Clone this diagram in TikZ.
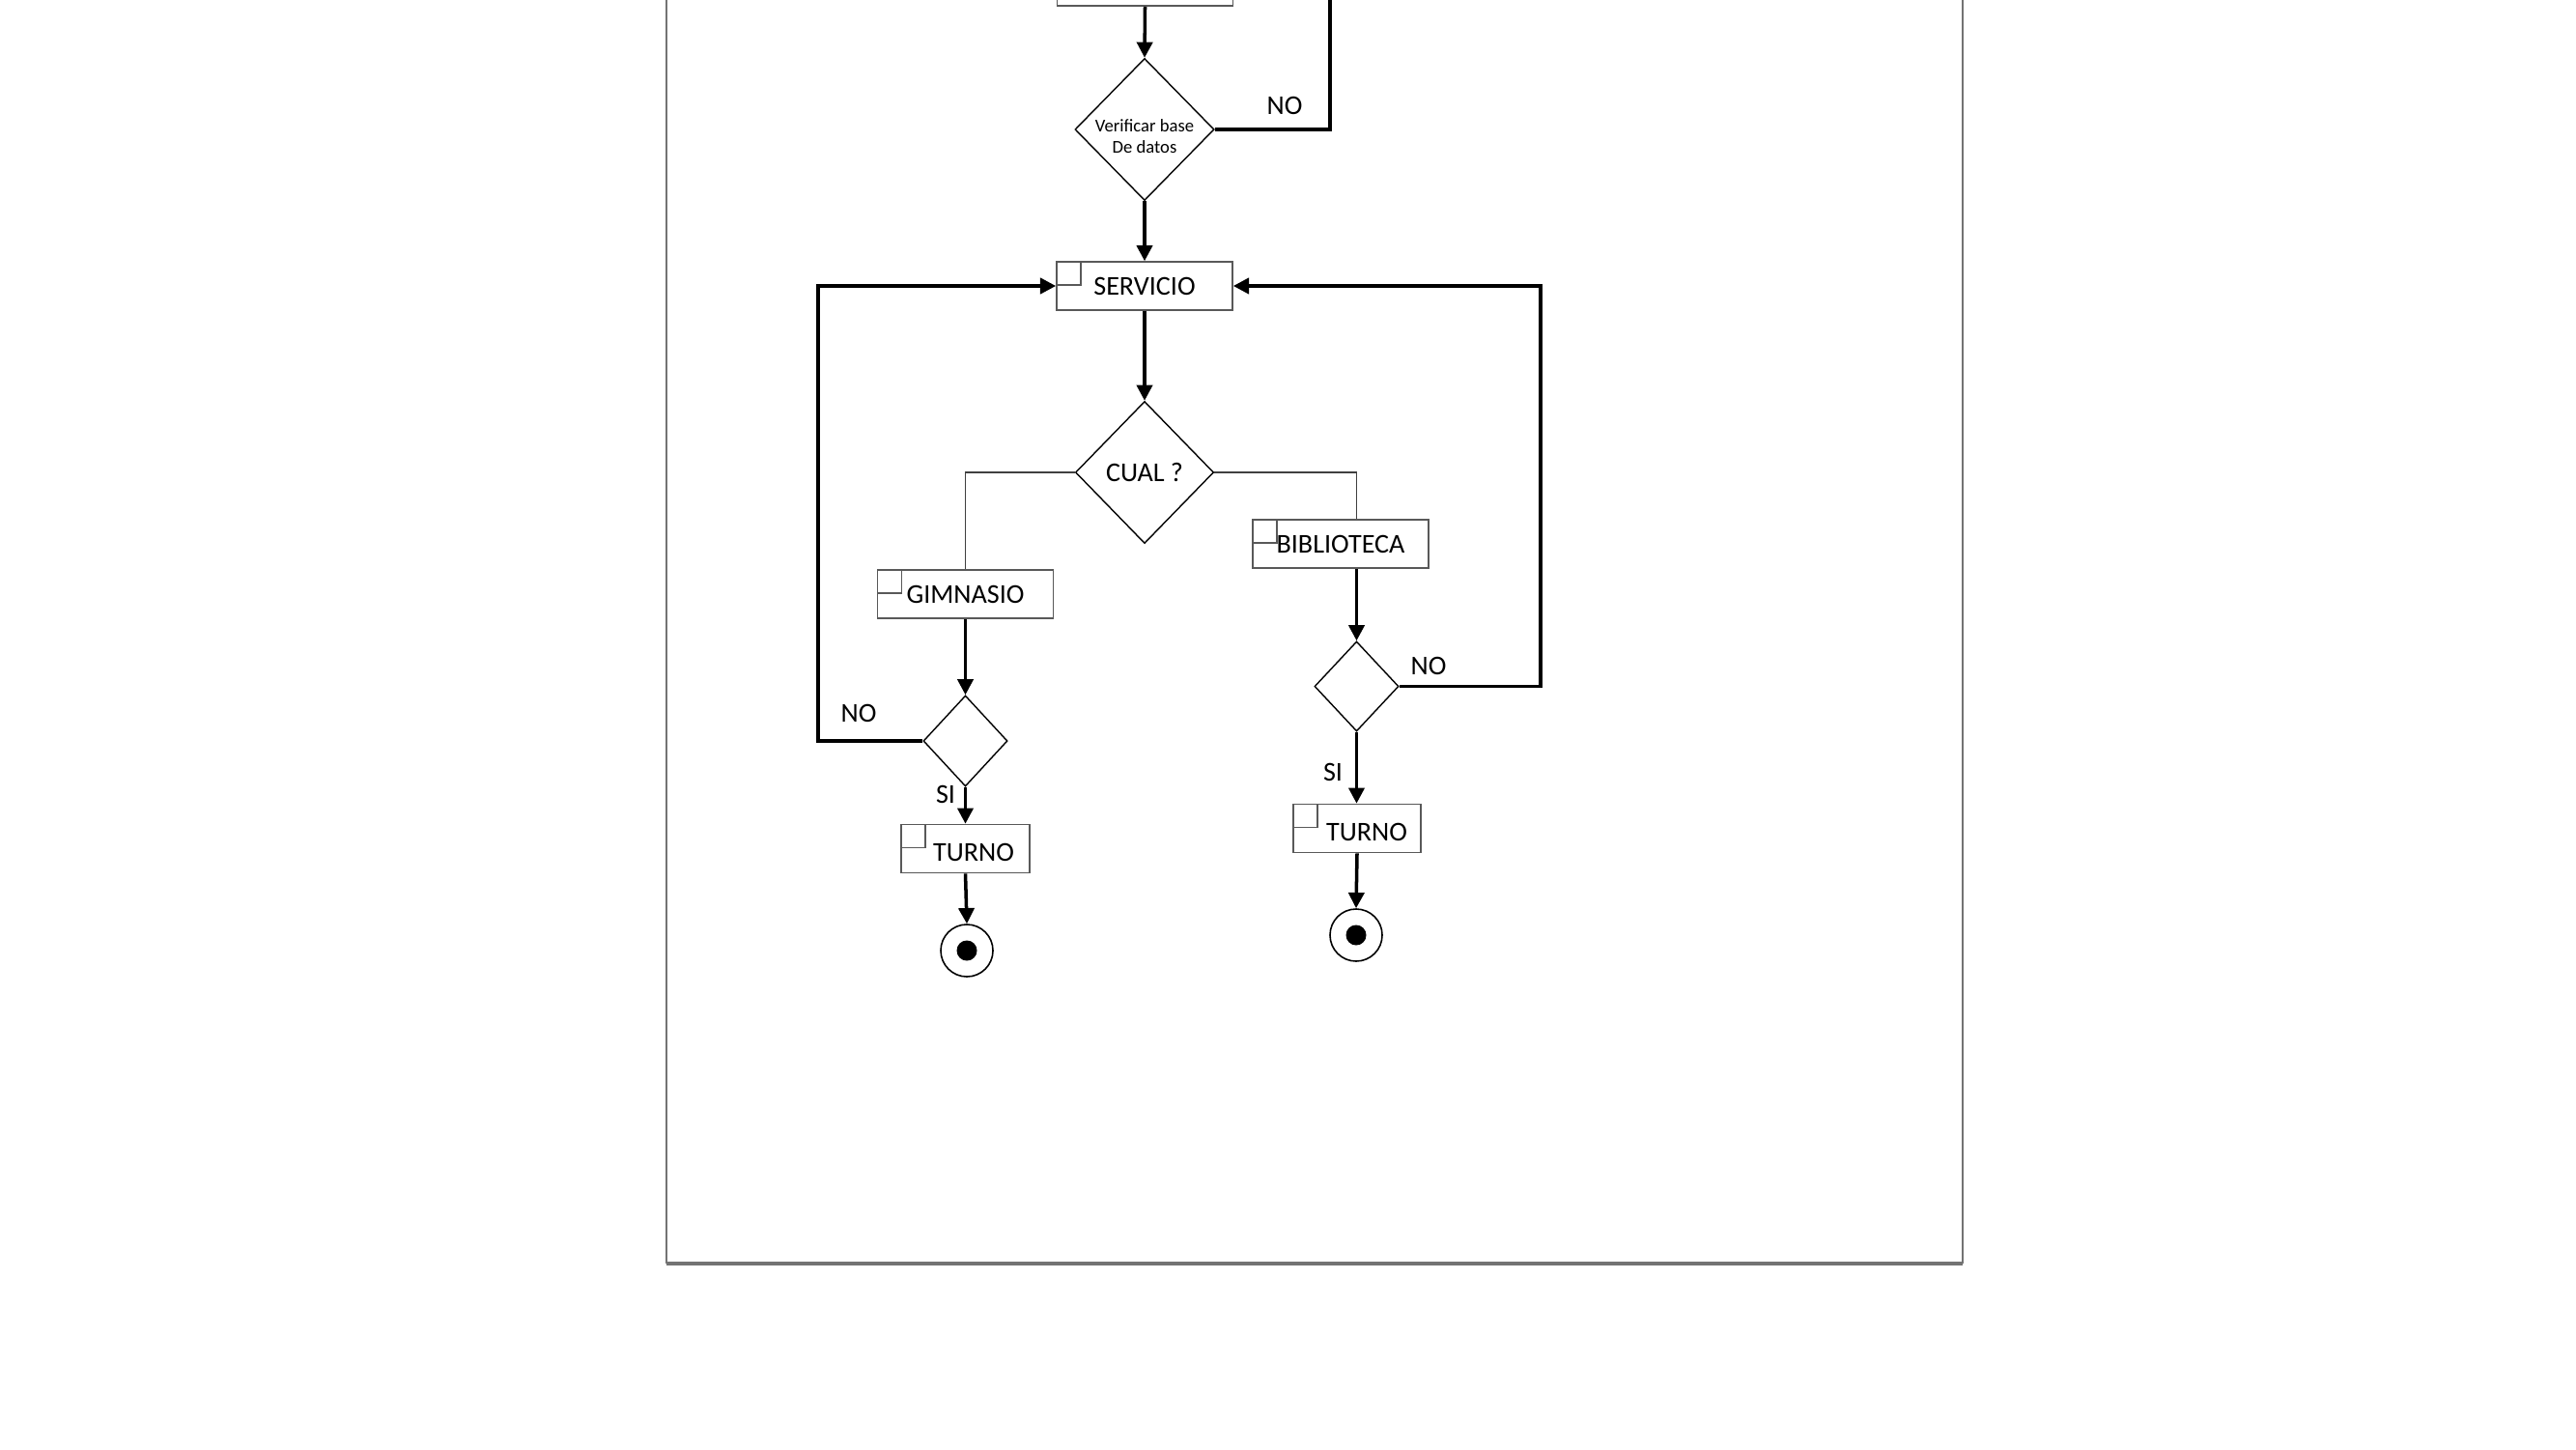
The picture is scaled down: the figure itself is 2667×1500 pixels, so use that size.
\documentclass[tikz,border=0pt]{standalone}
\usepackage{fontspec}
\setmainfont{Carlito}
\usetikzlibrary{shapes.geometric,arrows.meta}

\begin{document}
\begin{tikzpicture}[x=0.01cm,y=-0.01cm,
  act/.style={draw=black!65, line width=0.45pt, fill=white,
    minimum width=1.82cm, minimum height=0.5cm, inner sep=0pt,
    text height=5.2pt, text depth=0pt,
    font=\fontsize{8}{9.6}\selectfont,
    path picture={\draw[black!65, line width=0.45pt]
      (path picture bounding box.north west) rectangle ++(0.25cm,-0.24cm);}},
  dec/.style={diamond, draw, line width=0.4pt, fill=white, inner sep=0pt,
    font=\fontsize{8}{9.6}\selectfont},
  final/.style={circle, draw, line width=0.45pt, minimum size=0.54cm, inner sep=0pt,
    path picture={\fill (path picture bounding box.center) circle (0.105cm);}},
  flow/.style={line width=1pt, -{Triangle[width=4.6pt,length=4.6pt]}},
  bare/.style={line width=1pt},
  link/.style={draw=black!75, line width=0.45pt},
  lbl/.style={font=\fontsize{8}{9.6}\selectfont, inner sep=0pt}
]
\useasboundingbox (0,0) rectangle (2667,1500);
\fill[white] (0,0) rectangle (2667,1500);
\clip (0,0) rectangle (2667,1500);

% page frame
\draw[black!55, line width=0.7pt] (690,-20) -- (690,1308);
\draw[black!55, line width=0.7pt] (2032,-20) -- (2032,1308);
\draw[black!55, line width=1.2pt] (690,1308) -- (2032,1308);

% activities and decisions
\node[act, minimum height=1cm, anchor=south] (prev) at (1185.5,7) {};
\node[dec, minimum width=1.44cm, minimum height=1.47cm] (ver) at (1185,134) {};
\node[lbl, font=\fontsize{5.3}{6.2}\selectfont, align=center] (verlbl) at (1185,141) {Verificar base\\De datos};
\node[act] (serv) at (1185,296) {SERVICIO};
\node[dec, minimum width=1.43cm, minimum height=1.47cm] (cual) at (1185,489) {CUAL ?};
\node[act] (gym) at (999.5,615) {GIMNASIO};
\node[act] (bib) at (1388,563) {BIBLIOTECA};
\node[dec, minimum width=0.87cm, minimum height=0.94cm] (d1) at (999.5,767) {};
\node[dec, minimum width=0.87cm, minimum height=0.93cm] (d2) at (1404.5,710.5) {};
\node[act, minimum width=1.33cm, text height=7.4pt] (t1) at (999.5,878.5) {\hspace*{0.17cm}TURNO};
\node[act, minimum width=1.32cm, text height=7.4pt] (t2) at (1405,857.5) {\hspace*{0.2cm}TURNO};
\node[final] (e1) at (1001,984) {};
\node[final] (e2) at (1404,968) {};

% branch labels
\node[lbl] (no0) at (1330,109) {NO};
\node[lbl] (no1) at (889,738) {NO};
\node[lbl] (si1) at (979,822) {SI};
\node[lbl] (no2) at (1479,689) {NO};
\node[lbl] (si2) at (1380,799) {SI};

% connectors
\coordinate (upA) at (1377,-20);
\coordinate (lx) at (847,767);
\coordinate (rx) at (1595,710.5);

\draw[flow] (prev.south) -- (ver.north);
\draw[bare] (ver.east) -| (upA);
\draw[flow] (ver.south) -- (serv.north);
\draw[flow] (serv.south) -- (cual.north);
\draw[link] (cual.west) -| (gym.north);
\draw[link] (cual.east) -| (d2.north |- bib.north);
\draw[flow] (gym.south) -- (d1.north);
\draw[flow] (d2.north |- bib.south) -- (d2.north);
\draw[flow] (d1.south) -- (d1.south |- t1.north);
\draw[flow] (d2.south) -- (d2.south |- t2.north);
\draw[flow] (t1.south) -- (e1.north);
\draw[flow] (t2.south) -- (e2.north);
\draw[flow] (d1.west) -- (lx) |- (serv.west);
\draw[flow] (d2.east) -- (rx) |- (serv.east);
\end{tikzpicture}
\end{document}
